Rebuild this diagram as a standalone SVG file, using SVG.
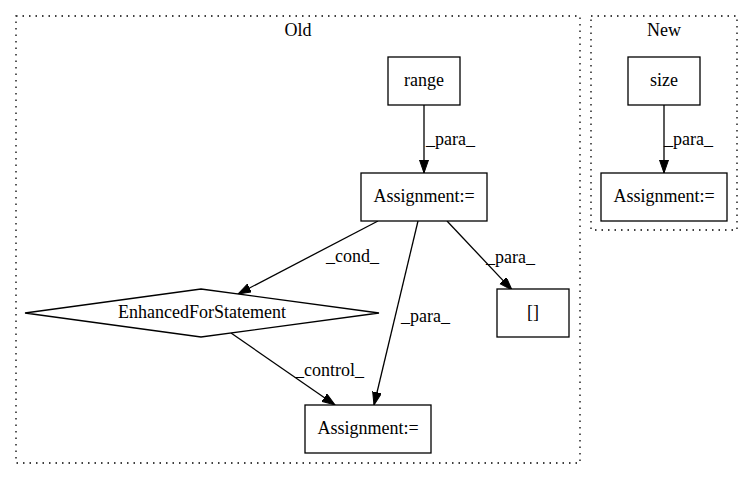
<svg xmlns="http://www.w3.org/2000/svg" width="753" height="480" viewBox="0 0 753 480">
<style>
text{font-family:"Liberation Serif","Times New Roman",serif;font-size:18px;fill:#000}
.c{text-anchor:middle}
.cl{fill:none;stroke:#000;stroke-width:1.3;stroke-dasharray:1.5,5}
.n{fill:#fff;stroke:#000;stroke-width:1.3}
.e{fill:none;stroke:#000;stroke-width:1.3}
</style>
<defs>
<marker id="a" markerUnits="userSpaceOnUse" markerWidth="14" markerHeight="10" refX="13" refY="4.5" orient="auto">
<path d="M0,0 L13,4.5 L0,9 z" fill="#000" stroke="#000"/>
</marker>
</defs>
<g id="cluster_old">
<rect class="cl" x="16" y="16" width="564" height="447"/>
<text class="c" x="298" y="36">Old</text>
</g>
<g id="cluster_new">
<rect class="cl" x="591" y="16" width="146" height="214"/>
<text class="c" x="664" y="36">New</text>
</g>
<g id="edges">
<line class="e" x1="424" y1="105" x2="424" y2="173" marker-end="url(#a)"/>
<text x="426" y="145">_para_</text>
<line class="e" x1="378" y1="221" x2="238" y2="294" marker-end="url(#a)"/>
<text x="326" y="262">_cond_</text>
<line class="e" x1="418" y1="221" x2="374" y2="405" marker-end="url(#a)"/>
<text x="401" y="322">_para_</text>
<line class="e" x1="447" y1="221" x2="512" y2="290" marker-end="url(#a)"/>
<text x="486" y="263">_para_</text>
<line class="e" x1="231" y1="333" x2="335" y2="405" marker-end="url(#a)"/>
<text x="295" y="376">_control_</text>
<line class="e" x1="664" y1="105" x2="664" y2="173" marker-end="url(#a)"/>
<text x="664" y="145">_para_</text>
</g>
<g id="range">
<rect class="n" x="388" y="57" width="72" height="48"/>
<text class="c" x="424" y="86">range</text>
</g>
<g id="assign_old_top">
<rect class="n" x="361" y="173" width="126" height="48"/>
<text class="c" x="424" y="202">Assignment:=</text>
</g>
<g id="enhanced_for">
<polygon class="n" points="201,289 379,313 201,337 25,313"/>
<text class="c" x="202" y="318">EnhancedForStatement</text>
</g>
<g id="index">
<rect class="n" x="497" y="289" width="72" height="48"/>
<text class="c" x="533" y="318">[]</text>
</g>
<g id="assign_old_bottom">
<rect class="n" x="305" y="405" width="126" height="48"/>
<text class="c" x="368" y="434">Assignment:=</text>
</g>
<g id="size">
<rect class="n" x="628" y="57" width="72" height="48"/>
<text class="c" x="664" y="86">size</text>
</g>
<g id="assign_new">
<rect class="n" x="601" y="173" width="126" height="48"/>
<text class="c" x="664" y="202">Assignment:=</text>
</g>
</svg>
